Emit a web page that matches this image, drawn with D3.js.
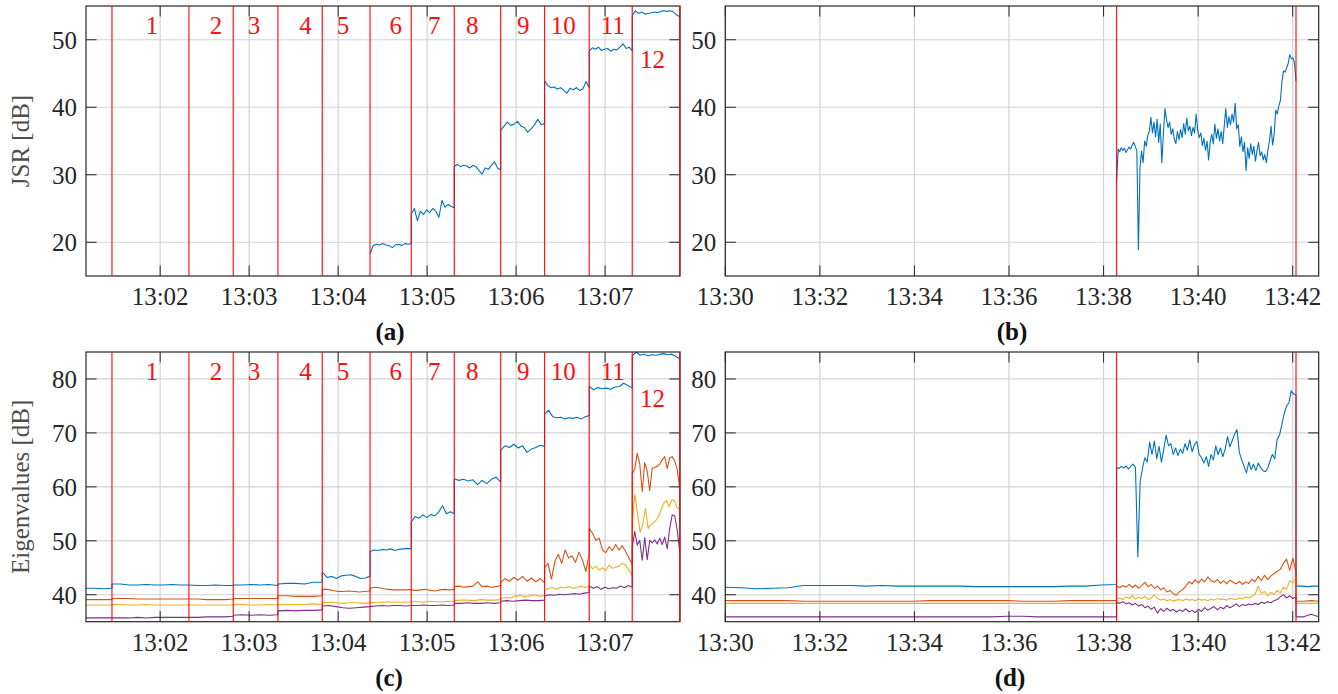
<!DOCTYPE html>
<html>
<head>
<meta charset="utf-8">
<script src="https://cdn.jsdelivr.net/npm/d3@7"></script>
<style>
  html, body { margin: 0; padding: 0; background: #fff; }
  svg { display: block; }
  svg text { font-family: 'Liberation Serif', 'DejaVu Serif', serif; }
</style>
</head>
<body>
<div id="chart"></div>
<script>
//------------------------------------------------------
// Data
//------------------------------------------------------

// experiment 1 : 13:01 - 13:08
const startA = "13:01:10";
const endA = "13:07:50.5";
const redLinesA = ["13:01:27.5", "13:02:19.4", "13:02:49.3", "13:03:19.4", "13:03:49.3", "13:04:21.5",
  "13:04:49.3", "13:05:18.3", "13:05:49.6", "13:06:19.2", "13:06:49.3", "13:07:18.3", "13:07:50.3"];
const segLabels = ["1", "2", "3", "4", "5", "6", "7", "8", "9", "10", "11", "12"];
const segLabelTimes = ["13:01:54.5", "13:02:37.6", "13:03:03.3", "13:03:38", "13:04:03.3", "13:04:38.8",
  "13:05:04.8", "13:05:30.4", "13:06:04.8", "13:06:31.8", "13:07:05.1", "13:07:32"];
const ticksA = ["13:02", "13:03", "13:04", "13:05", "13:06", "13:07"];

// experiment 2 : 13:30 - 13:42
const startB = "13:30:00";
const endB = "13:42:33";
const redLinesB = ["13:38:16.5", "13:42:04.2"];
const ticksB = ["13:30", "13:32", "13:34", "13:36", "13:38", "13:40", "13:42"];

const jsrTicks = [20, 30, 40, 50];
const eigTicks = [40, 50, 60, 70, 80];

// (a) JSR, one array per segment 6..12
const jsrA = [
  [18.3, 19.5, 19.7, 19.6, 19.8, 19.6, 19.5, 19.2, 19.6, 19.7, 19.5, 19.8, 19.7, 19.8],
  [24.2, 25.0, 23.2, 24.6, 24.1, 24.8, 24.4, 25.0, 24.6, 23.7, 26.2, 25.2, 25.6, 25.3, 25.1],
  [31.3, 31.5, 31.2, 31.4, 31.3, 31.0, 31.4, 31.2, 30.6, 30.1, 31.0, 30.8, 31.4, 31.9, 31.0, 30.7],
  [36.6, 37.2, 37.8, 37.3, 37.5, 37.9, 37.2, 37.0, 36.3, 36.8, 37.4, 38.2, 37.4, 37.6],
  [43.9, 43.2, 42.9, 43.0, 42.7, 42.9, 42.5, 42.1, 42.8, 42.6, 42.9, 42.5, 42.7, 43.8, 42.9],
  [48.3, 48.8, 48.6, 48.9, 48.4, 48.6, 48.7, 48.3, 48.6, 48.5, 48.9, 49.4, 48.7, 48.9, 48.4],
  [53.6, 54.3, 53.9, 54.1, 53.8, 53.9, 54.0, 54.1, 54.0, 54.2, 54.3, 54.2, 54.3, 54.1, 53.7, 53.4]
];

// (c) eigenvalues, one array per segment (before 1, then 1..12)
const eig1C = [
  [41.2, 41.2, 41.1, 41.2],
  [42.0, 42.0, 41.8, 41.8, 41.9, 41.8, 41.8, 41.9, 41.8, 41.8],
  [41.8, 41.7, 41.7, 41.8, 41.7, 41.7],
  [41.8, 41.8, 41.9, 41.8, 41.9, 41.7],
  [42.0, 42.1, 42.1, 42.0, 42.3, 42.3],
  [44.2, 43.2, 43.4, 43.0, 43.5, 43.6, 43.7, 43.4, 43.0, 43.1, 43.4],
  [48.0, 48.3, 48.2, 48.4, 48.3, 48.5, 48.2, 48.4, 48.5, 48.6, 48.5],
  [53.5, 54.5, 54.2, 54.8, 54.3, 54.9, 54.6, 55.3, 56.5, 55.0, 55.4, 55.0],
  [61.5, 61.2, 61.4, 61.1, 61.3, 60.4, 61.2, 60.6, 61.4, 61.8, 60.9],
  [66.8, 67.6, 67.3, 67.9, 67.2, 67.6, 66.4, 67.0, 67.3, 67.7, 67.5],
  [73.5, 74.2, 73.0, 72.8, 72.9, 72.6, 72.8, 72.7, 72.9, 72.6, 73.0, 73.2],
  [78.6, 78.0, 78.4, 78.2, 78.3, 78.1, 78.5, 78.6, 79.2, 78.8, 78.3],
  [84.3, 85.0, 84.4, 84.6, 84.3, 84.5, 84.4, 84.6, 84.7, 84.5, 84.6, 84.2, 83.7]
];
const eig2C = [
  [39.1, 39.1, 39.1, 39.1],
  [39.3, 39.3, 39.3, 39.2, 39.2, 39.2, 39.2, 39.2, 39.2, 39.2],
  [39.2, 39.2, 39.1, 39.1, 39.1, 39.2],
  [39.3, 39.3, 39.3, 39.3, 39.3, 39.3],
  [39.8, 39.8, 39.7, 39.7, 39.7, 39.8],
  [41.0, 41.0, 40.8, 40.6, 40.6, 40.7, 40.6, 40.5, 40.6, 40.7],
  [41.2, 41.4, 41.3, 41.1, 41.0, 40.9, 40.9, 40.9, 40.9, 41.0],
  [40.9, 40.8, 40.9, 41.0, 40.8, 40.7, 40.9, 41.0, 40.9, 41.0],
  [41.5, 41.6, 41.4, 41.5, 41.6, 42.4, 41.5, 41.6, 41.4, 41.5, 41.7],
  [42.3, 43.0, 42.5, 43.2, 42.7, 43.4, 42.5, 43.1, 42.4, 43.0, 42.2],
  [45.0, 45.8, 42.9, 46.2, 47.5, 45.8, 48.3, 46.8, 47.2, 46.0, 47.9, 46.5, 44.3, 47.6],
  [52.3, 51.4, 50.1, 50.5, 48.3, 47.8, 48.9, 48.2, 49.3, 48.3, 49.1, 48.0, 46.8, 45.6],
  [62.5, 63.3, 66.2, 64.3, 59.1, 64.5, 62.9, 59.3, 63.5, 63.6, 63.8, 64.2, 65.0, 65.6, 63.4, 65.4, 65.6, 64.8, 63.2, 59.8]
];
const eig3C = [
  [38.1, 38.1, 38.1, 38.1],
  [38.2, 38.2, 38.1, 38.1, 38.2, 38.1, 38.1, 38.1, 38.1, 38.1],
  [38.1, 38.1, 38.1, 38.1, 38.1, 38.1],
  [38.2, 38.2, 38.1, 38.1, 38.2, 38.1],
  [38.2, 38.2, 38.2, 38.2, 38.3, 38.2],
  [38.5, 38.6, 38.5, 38.4, 38.5, 38.5, 38.4, 38.5],
  [38.5, 38.6, 38.6, 38.7, 38.6, 38.6, 38.6, 38.7],
  [38.7, 38.7, 38.6, 38.8, 38.7, 38.7, 38.8, 38.7],
  [38.9, 39.0, 39.0, 38.9, 39.1, 39.0, 39.0, 39.1],
  [39.3, 39.5, 39.4, 39.7, 39.9, 39.6, 39.8, 40.0, 39.7, 39.9],
  [40.8, 41.2, 41.3, 41.0, 41.4, 41.3, 41.5, 41.2, 41.4, 41.6, 41.3, 41.6],
  [45.7, 44.8, 45.3, 44.6, 45.0, 44.5, 45.5, 44.9, 45.1, 45.3, 45.8, 45.5, 44.6, 43.6],
  [53.4, 58.6, 55.0, 51.6, 53.0, 56.0, 52.3, 53.0, 53.3, 53.8, 54.5, 55.8, 57.0, 57.5, 56.3, 57.6, 57.4, 56.1, 56.0]
];
const eig4C = [
  [35.7, 35.7, 35.7, 35.7],
  [35.7, 35.7, 35.7, 35.8, 35.7, 35.8, 35.8, 35.8, 35.8, 35.8],
  [35.8, 35.8, 35.9, 35.9, 35.9, 36.0],
  [36.2, 36.3, 36.2, 36.3, 36.2, 36.3],
  [37.0, 37.1, 37.0, 37.1, 37.1, 37.2],
  [37.9, 38.0, 37.8, 37.6, 37.5, 37.6, 37.7, 37.8],
  [37.8, 37.9, 38.0, 37.9, 38.0, 38.0, 37.9, 38.0],
  [38.0, 38.0, 38.1, 38.0, 38.0, 38.1, 38.0, 38.1],
  [38.4, 38.4, 38.5, 38.4, 38.4, 38.5, 38.4, 38.5],
  [38.8, 38.9, 38.8, 38.9, 39.0, 38.9, 38.9, 39.0],
  [39.8, 40.0, 39.9, 40.1, 40.0, 40.1, 40.2, 40.1, 40.3, 40.4],
  [41.6, 41.2, 41.5, 41.0, 41.4, 41.1, 41.3, 41.2, 41.6, 41.3, 41.7, 41.4],
  [48.9, 51.7, 49.2, 50.1, 46.4, 50.6, 46.5, 50.1, 49.6, 50.2, 49.4, 50.5, 49.3, 50.7, 48.5, 52.3, 54.8, 54.6, 52.0, 48.0]
];

// (b) JSR between the two red lines
const jsrB = [
  28.8, 33.8, 33.4, 34.0, 33.6, 33.9, 33.3, 33.7, 34.1, 33.8, 34.4, 34.8, 34.2, 33.5, 18.9, 31.0,
  33.5, 31.8, 35.0, 34.2, 35.8, 36.5, 38.5, 36.2, 37.8, 35.6, 38.2, 34.8, 37.5, 31.8, 36.0, 39.8,
  38.2, 37.0, 37.8, 36.0, 36.8, 35.3, 34.6, 36.4, 35.2, 36.7, 35.5, 37.6, 36.0, 38.4, 36.5, 37.2,
  35.8, 37.0, 36.2, 39.0, 36.6, 35.5, 36.2, 34.3, 35.4, 33.6, 35.0, 32.2, 34.8, 36.0, 34.6, 37.5,
  35.4, 36.8, 35.0, 36.4, 34.6, 37.2, 39.8, 37.0, 38.6, 37.4, 39.0, 37.8, 40.6, 36.8, 37.4, 34.2,
  35.6, 33.4, 34.8, 30.6, 34.0, 32.4, 34.6, 33.0, 34.2, 32.0, 33.6, 34.8, 32.8, 33.4, 32.2, 33.0,
  31.8, 33.6, 35.0, 37.2, 34.4, 36.0, 39.6, 39.0, 40.2, 41.0, 43.8, 45.4, 45.2, 45.8, 46.5, 47.8,
  47.2, 47.3, 46.6, 43.9
];

// (d) eigenvalues : [quiet, between red lines, after]
const eig1D = [
  [41.4, 41.3, 41.1, 41.2, 41.3, 41.7, 41.7, 41.7, 41.7, 41.6, 41.7, 41.6, 41.6, 41.6, 41.6, 41.6,
   41.5, 41.5, 41.5, 41.5, 41.5, 41.5, 41.6, 41.6, 41.8, 41.9],
  [63.6, 63.4, 63.8, 63.5, 63.9, 63.3, 63.8, 64.2, 63.6, 47.0, 61.0, 63.5, 65.4, 64.6, 68.3, 66.0,
   68.5, 65.2, 67.5, 64.6, 67.0, 69.6, 67.6, 68.0, 66.0, 67.2, 65.8, 67.0, 66.2, 68.0, 66.8, 68.7,
   66.5, 67.8, 68.4, 66.0, 65.4, 64.4, 65.6, 63.8, 66.0, 65.0, 67.6, 66.0, 67.2, 65.6, 67.0, 69.3,
   67.4, 68.6, 69.8, 70.6, 66.4, 65.0, 63.8, 62.6, 64.6, 63.2, 64.2, 63.0, 64.4, 63.6, 63.0, 62.8,
   63.4, 64.8, 66.0, 65.2, 68.8, 69.6, 71.5, 73.6, 75.0, 75.6, 77.8, 77.2, 77.0],
  [41.6, 41.6, 41.5, 41.6, 41.6]
];
const eig2D = [
  [38.9, 38.9, 38.9, 38.9, 38.9, 38.8, 38.8, 38.8, 38.8, 38.8, 38.8, 38.8, 38.8, 38.9, 38.9, 38.9,
   38.9, 38.9, 38.9, 38.8, 38.8, 38.8, 38.9, 38.9, 38.9, 38.9],
  [41.6, 41.3, 41.7, 41.4, 41.9, 41.3, 41.8, 41.2, 41.7, 42.3, 41.5, 41.9, 41.2, 41.6, 40.9, 41.3,
   40.5, 40.8, 40.2, 39.9, 40.6, 40.9, 41.6, 42.4, 42.0, 42.8, 42.2, 42.9, 42.4, 43.3, 42.6, 42.3,
   42.8, 42.1, 42.6, 42.0, 42.7, 42.3, 42.0, 42.5, 41.9, 42.4, 42.1, 42.9, 42.4, 43.4, 42.6, 43.6,
   42.8, 43.5, 43.9, 44.3, 44.7, 45.8, 46.6, 44.5, 46.8, 44.2],
  [38.8, 38.8, 38.9, 38.8]
];
const eig3D = [
  [38.4, 38.4, 38.4, 38.4, 38.4, 38.4, 38.4, 38.4, 38.4, 38.4, 38.4, 38.4, 38.4, 38.4, 38.4, 38.4,
   38.4, 38.4, 38.4, 38.4, 38.4, 38.4, 38.4, 38.4, 38.4, 38.4],
  [39.2, 39.4, 39.1, 39.6, 39.3, 39.9, 39.2, 39.5, 39.3, 39.7, 39.1, 39.4, 40.0, 39.3, 39.0, 39.2,
   38.9, 39.1, 38.8, 39.0, 39.1, 38.9, 39.2, 39.0, 39.1, 38.9, 39.2, 39.0, 39.1, 38.9, 39.2, 39.0,
   39.3, 39.1, 39.2, 39.0, 39.3, 39.2, 39.1, 39.4, 39.2, 39.6, 39.4, 39.7, 40.1, 41.6, 40.2, 40.6,
   39.8, 40.4, 40.1, 40.8, 40.3, 41.4, 41.0, 42.6, 42.2, 43.3],
  [38.4, 38.4, 38.4, 38.4]
];
const eig4D = [
  [35.9, 35.9, 35.9, 35.9, 35.9, 35.9, 35.9, 35.9, 35.9, 35.9, 35.9, 35.9, 35.9, 35.9, 35.9, 35.9,
   35.9, 35.9, 36.0, 36.0, 35.9, 35.9, 35.9, 35.9, 35.9, 35.9],
  [38.6, 38.4, 38.7, 38.3, 38.5, 38.1, 38.4, 37.9, 38.2, 37.6, 37.9, 37.3, 37.7, 36.6, 37.4, 36.9,
   37.5, 37.0, 37.3, 36.8, 37.2, 36.9, 37.4, 36.8, 37.1, 36.7, 37.3, 36.9, 37.6, 37.1, 37.5, 37.8,
   37.2, 37.7, 37.4, 38.0, 37.6, 37.9, 38.3, 37.8, 38.2, 38.0, 38.3, 38.1, 38.4, 38.2, 38.6, 38.4,
   38.7, 38.5, 38.9, 39.1, 39.6, 40.0, 39.4, 39.8, 39.3, 39.6],
  [35.9, 35.9, 36.4, 35.9]
];

const seriesColors = ["#0072BD", "#D95319", "#EDB120", "#7E2F8E"];

//------------------------------------------------------
// Helpers
//------------------------------------------------------

function T(s) {
  const p = s.split(":").map(Number);
  return new Date(2000, 0, 1, p[0], p[1], 0, Math.round((p[2] || 0) * 1000));
}

// each segment spreads its samples between two boundary times
function expand(bounds, segs) {
  const pts = [];
  segs.forEach((vals, j) => {
    const t0 = T(bounds[j]).getTime();
    const t1 = T(bounds[j + 1]).getTime();
    vals.forEach((v, k) => {
      const f = vals.length > 1 ? k / (vals.length - 1) : 0;
      pts.push({ t: new Date(t0 + (t1 - t0) * f), v });
    });
  });
  return pts;
}

const boundsA = redLinesA.slice(5);
const boundsC = [startA, ...redLinesA];
const boundsB = redLinesB;
const boundsD = [startB, redLinesB[0], redLinesB[1], endB];

//------------------------------------------------------
// Layout
//------------------------------------------------------

const width = 1338, height = 694;
const FONT = "'Liberation Serif', 'DejaVu Serif', serif";

const svg = d3.select("#chart").append("svg")
  .attr("width", width)
  .attr("height", height)
  .attr("font-family", FONT);

const panels = [
  { key: "a", box: [86, 6, 680, 276], x: [startA, endA], y: [15, 55], xt: ticksA, yt: jsrTicks,
    red: redLinesA, lines: [expand(boundsA, jsrA)], ylab: "JSR [dB]", seg: [50.8, 45.8], sub: [390, 340] },
  { key: "b", box: [725.3, 6, 1318.7, 276], x: [startB, endB], y: [15, 55], xt: ticksB, yt: jsrTicks,
    red: redLinesB, lines: [expand(boundsB, [jsrB])], sub: [1012, 340] },
  { key: "c", box: [86, 352, 680, 621.7], x: [startA, endA], y: [35, 85], xt: ticksA, yt: eigTicks,
    red: redLinesA, lines: [eig1C, eig2C, eig3C, eig4C].map(s => expand(boundsC, s)),
    ylab: "Eigenvalues [dB]", seg: [79.8, 74.8], sub: [389, 686] },
  { key: "d", box: [725.3, 352, 1318.7, 621.7], x: [startB, endB], y: [35, 85], xt: ticksB, yt: eigTicks,
    red: redLinesB, lines: [eig1D, eig2D, eig3D, eig4D].map(s => expand(boundsD, s)), sub: [1010, 686] }
];

panels.forEach(drawPanel);

function drawPanel(p) {
  const [x0, y0, x1, y1] = p.box;
  const x = d3.scaleTime().domain(p.x.map(T)).range([x0, x1]);
  const y = d3.scaleLinear().domain(p.y).range([y1, y0]);
  const g = svg.append("g");
  const tickLen = 10.5;

  g.append("clipPath").attr("id", "clip-" + p.key)
    .append("rect").attr("x", x0).attr("y", y0).attr("width", x1 - x0).attr("height", y1 - y0);

  // grid
  g.append("g").selectAll("line").data(p.xt.map(T)).join("line")
    .attr("x1", d => x(d)).attr("x2", d => x(d)).attr("y1", y0).attr("y2", y1)
    .attr("stroke", "#d3d3d3").attr("stroke-width", 1.2);
  g.append("g").selectAll("line").data(p.yt).join("line")
    .attr("x1", x0).attr("x2", x1).attr("y1", d => y(d)).attr("y2", d => y(d))
    .attr("stroke", "#d3d3d3").attr("stroke-width", 1.2);

  // data
  const line = d3.line().x(d => x(d.t)).y(d => y(d.v));
  g.append("g").attr("clip-path", `url(#clip-${p.key})`)
    .selectAll("path").data(p.lines).join("path")
    .attr("d", line)
    .attr("fill", "none")
    .attr("stroke", (d, i) => seriesColors[i])
    .attr("stroke-width", 1.1)
    .attr("stroke-linejoin", "round");

  // ticks on all four sides, pointing inward
  const tk = g.append("g").attr("stroke", "#262626").attr("stroke-width", 1);
  p.xt.map(T).forEach(d => {
    tk.append("line").attr("x1", x(d)).attr("x2", x(d)).attr("y1", y1).attr("y2", y1 - tickLen);
    tk.append("line").attr("x1", x(d)).attr("x2", x(d)).attr("y1", y0).attr("y2", y0 + tickLen);
  });
  p.yt.forEach(d => {
    tk.append("line").attr("x1", x0).attr("x2", x0 + tickLen).attr("y1", y(d)).attr("y2", y(d));
    tk.append("line").attr("x1", x1).attr("x2", x1 - tickLen).attr("y1", y(d)).attr("y2", y(d));
  });

  // box
  g.append("rect").attr("x", x0).attr("y", y0).attr("width", x1 - x0).attr("height", y1 - y0)
    .attr("fill", "none").attr("stroke", "#262626").attr("stroke-width", 1.2);

  // red segment boundaries
  g.append("g").selectAll("line").data(p.red.map(T)).join("line")
    .attr("x1", d => x(d)).attr("x2", d => x(d)).attr("y1", y0).attr("y2", y1)
    .attr("stroke", "#ff0000").attr("stroke-width", 1.2).attr("opacity", 0.9);

  // segment numbers
  if (p.seg) {
    g.append("g").selectAll("text").data(segLabels).join("text")
      .attr("x", (d, i) => x(T(segLabelTimes[i])))
      .attr("y", (d, i) => y(i === 11 ? p.seg[1] : p.seg[0]))
      .attr("text-anchor", "middle")
      .attr("font-family", FONT)
      .attr("font-size", 25)
      .attr("fill", "#ff1010")
      .text(d => d);
  }

  // tick labels
  const fmt = d3.timeFormat("%H:%M");
  g.append("g").selectAll("text").data(p.xt.map(T)).join("text")
    .attr("x", d => x(d)).attr("y", y1 + 29)
    .attr("text-anchor", "middle").attr("font-family", FONT).attr("font-size", 25).attr("fill", "#262626")
    .text(d => fmt(d));
  g.append("g").selectAll("text").data(p.yt).join("text")
    .attr("x", x0 - 9).attr("y", d => y(d) + 9)
    .attr("text-anchor", "end").attr("font-family", FONT).attr("font-size", 25).attr("fill", "#262626")
    .text(d => d);

  if (p.ylab) {
    g.append("text")
      .attr("transform", `translate(29,${(y0 + y1) / 2}) rotate(-90)`)
      .attr("text-anchor", "middle").attr("font-family", FONT).attr("font-size", 25).attr("fill", "#4d4d4d")
      .text(p.ylab);
  }

  g.append("text")
    .attr("x", p.sub[0]).attr("y", p.sub[1])
    .attr("text-anchor", "middle").attr("font-family", FONT)
    .attr("font-size", 25).attr("font-weight", "bold").attr("fill", "#111")
    .text(`(${p.key})`);
}
</script>
</body>
</html>
